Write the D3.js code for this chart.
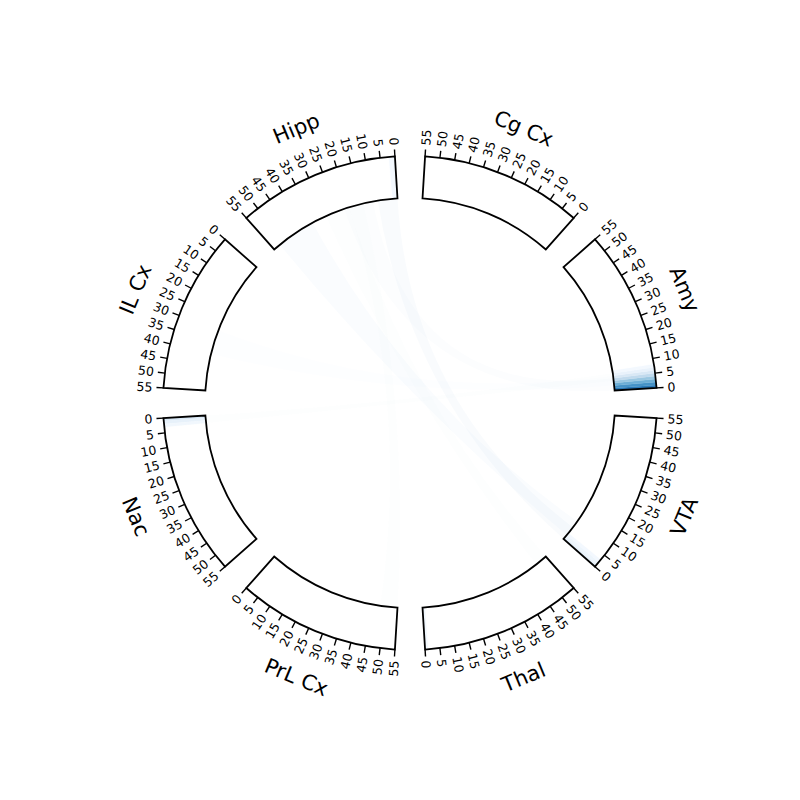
<!DOCTYPE html>
<html>
<head>
<meta charset="utf-8">
<script src="https://cdn.jsdelivr.net/npm/d3@7"></script>
<style>
  html, body { margin: 0; padding: 0; background: #fff; }
  svg { display: block; }
</style>
</head>
<body>
<svg id="chart" width="800" height="800"></svg>
<script>
// ---------------- data ----------------
const regions = ["Amy", "Cg Cx", "Hipp", "IL Cx", "Nac", "PrL Cx", "Thal", "VTA"];
const tickValues = [0, 5, 10, 15, 20, 25, 30, 35, 40, 45, 50, 55];
const positionMax = 55;

// heat intensity per unit cell (cell k spans k..k+1), remaining cells are 0
const heatAmy  = [0.72, 0.62, 0.50, 0.38, 0.26, 0.15, 0.07, 0.02];
const heatCgCx = [];
const heatHipp = [0.03, 0.02];
const heatILCx = [];
const heatNac  = [0.15, 0.08, 0.03];
const heatPrL  = [];
const heatThal = [0.03];
const heatVTA  = [0.08, 0.05, 0.02];
const heatByRegion = [heatAmy, heatCgCx, heatHipp, heatILCx, heatNac, heatPrL, heatThal, heatVTA];

// faint connections
const linkSource = ["Hipp", "Hipp", "Amy", "PrL Cx", "Nac", "Hipp", "Amy"];
const linkSrcFrom = [0, 36, 0, 48, 0, 20, 2];
const linkSrcTo   = [8, 52, 5, 55, 3, 30, 6];
const linkTarget = ["VTA", "VTA", "Hipp", "Hipp", "Amy", "Thal", "IL Cx"];
const linkTgtFrom = [0, 2, 10, 14, 4, 50, 30];
const linkTgtTo   = [6, 9, 22, 20, 7, 55, 40];
const linkStrength = [0.03, 0.022, 0.015, 0.012, 0.012, 0.01, 0.008];

// ---------------- layout ----------------
const cx = 410, cy = 403;
const rInner = 205, rOuter = 247;
const tickLen = 7, tickLabelR = 258, nameR = 297;
const gapDeg = 3.5, spanDeg = 38;

const svg = d3.select("#chart");
const g = svg.append("g").attr("transform", `translate(${cx},${cy})`);

const rad = d => d * Math.PI / 180;
const scales = regions.map((r, i) =>
  d3.scaleLinear().domain([0, positionMax]).range([i * 45 + gapDeg, i * 45 + gapDeg + spanDeg]));
const toD3 = deg => rad(90 - deg);

const arc = d3.arc();

// chords
const ribbon = d3.ribbon().radius(rInner);
const chordG = g.append("g");
linkSource.forEach((s, k) => {
  const si = regions.indexOf(s), ti = regions.indexOf(linkTarget[k]);
  const sa = [toD3(scales[si](linkSrcFrom[k])), toD3(scales[si](linkSrcTo[k]))];
  const ta = [toD3(scales[ti](linkTgtFrom[k])), toD3(scales[ti](linkTgtTo[k]))];
  chordG.append("path")
    .attr("d", ribbon({
      source: {startAngle: Math.min(...sa), endAngle: Math.max(...sa)},
      target: {startAngle: Math.min(...ta), endAngle: Math.max(...ta)}
    }))
    .attr("fill", d3.interpolateBlues(0.65))
    .attr("fill-opacity", linkStrength[k])
    .attr("stroke", "none");
});

// segments
regions.forEach((name, i) => {
  const sc = scales[i];
  const seg = g.append("g");
  const heat = heatByRegion[i];
  d3.range(positionMax).forEach(k => {
    const v = heat[k] || 0;
    if (v <= 0) return;
    const a0 = toD3(sc(k)), a1 = toD3(sc(k + 1));
    seg.append("path")
      .attr("d", arc({innerRadius: rInner, outerRadius: rOuter,
                      startAngle: Math.min(a0, a1), endAngle: Math.max(a0, a1)}))
      .attr("fill", d3.interpolateBlues(v))
      .attr("stroke", d3.interpolateBlues(v))
      .attr("stroke-width", 0.3);
  });
  const b0 = toD3(sc(0)), b1 = toD3(sc(positionMax));
  seg.append("path")
    .attr("d", arc({innerRadius: rInner, outerRadius: rOuter,
                    startAngle: Math.min(b0, b1), endAngle: Math.max(b0, b1)}))
    .attr("fill", "none")
    .attr("stroke", "#000")
    .attr("stroke-width", 1.8)
    .attr("stroke-linejoin", "miter");

  tickValues.forEach(t => {
    const th = rad(sc(t));
    const c = Math.cos(th), s = Math.sin(th);
    seg.append("line")
      .attr("x1", rOuter * c).attr("y1", -rOuter * s)
      .attr("x2", (rOuter + tickLen) * c).attr("y2", -(rOuter + tickLen) * s)
      .attr("stroke", "#000").attr("stroke-width", 1.4);
    const deg = sc(t);
    const right = c > 0;
    const rot = right ? -deg : 180 - deg;
    seg.append("text")
      .attr("transform", `translate(${tickLabelR * c},${-tickLabelR * s}) rotate(${rot})`)
      .attr("text-anchor", right ? "start" : "end")
      .attr("dominant-baseline", "central")
      .attr("font-family", "DejaVu Sans, sans-serif")
      .attr("font-size", 12.5)
      .attr("fill", "#000")
      .text(t);
  });

  const mid = sc(positionMax / 2);
  let rot = 90 - mid;
  while (rot > 90) rot -= 180;
  while (rot <= -90) rot += 180;
  const mth = rad(mid);
  seg.append("text")
    .attr("transform", `translate(${nameR * Math.cos(mth)},${-nameR * Math.sin(mth)}) rotate(${rot})`)
    .attr("text-anchor", "middle")
    .attr("dominant-baseline", "central")
    .attr("font-family", "DejaVu Sans, sans-serif")
    .attr("font-size", 21)
    .attr("fill", "#000")
    .text(name);
});
</script>
</body>
</html>
